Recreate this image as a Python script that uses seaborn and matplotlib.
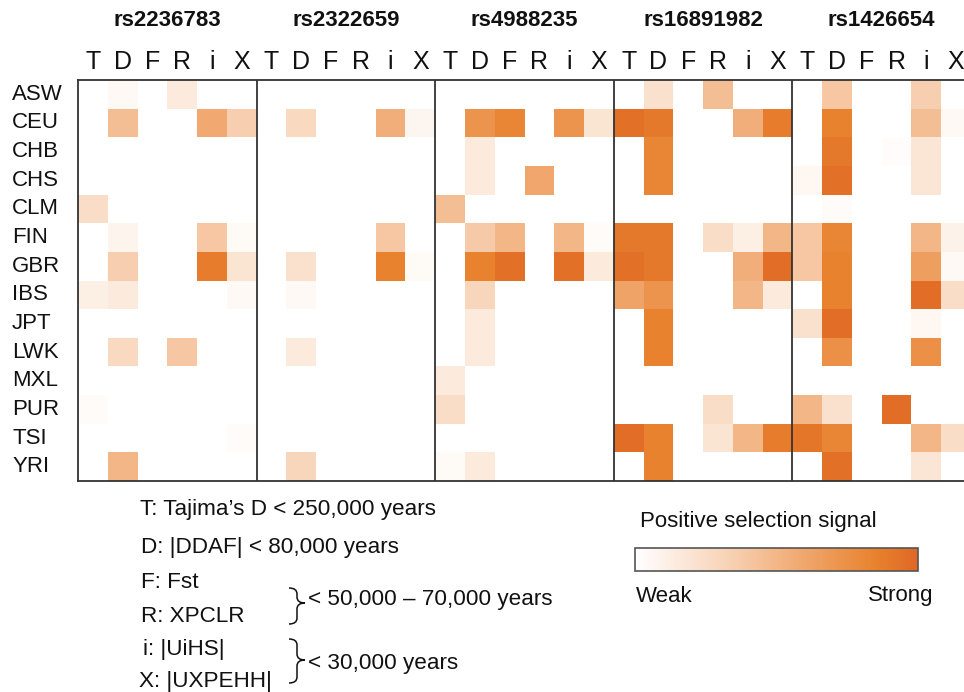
import numpy as np
import pandas as pd
import seaborn as sns
import matplotlib
matplotlib.use("Agg")
import matplotlib.pyplot as plt
from matplotlib.colors import LinearSegmentedColormap
from matplotlib.path import Path
from matplotlib.patches import PathPatch

# ---------------- data ----------------
populations = ["ASW", "CEU", "CHB", "CHS", "CLM", "FIN", "GBR", "IBS",
               "JPT", "LWK", "MXL", "PUR", "TSI", "YRI"]
snps = ["rs2236783", "rs2322659", "rs4988235", "rs16891982", "rs1426654"]
tests = ["T", "D", "F", "R", "i", "X"]

# rows = populations, columns = tests (T D F R i X); 0 = weak, 1 = strong
rs2236783 = [
    [0.00, 0.05, 0.00, 0.15, 0.00, 0.00],
    [0.00, 0.45, 0.00, 0.00, 0.58, 0.35],
    [0.00, 0.00, 0.00, 0.00, 0.00, 0.00],
    [0.00, 0.00, 0.00, 0.00, 0.00, 0.00],
    [0.25, 0.00, 0.00, 0.00, 0.00, 0.00],
    [0.00, 0.08, 0.00, 0.00, 0.40, 0.04],
    [0.00, 0.35, 0.00, 0.00, 0.88, 0.20],
    [0.12, 0.15, 0.00, 0.00, 0.00, 0.05],
    [0.00, 0.00, 0.00, 0.00, 0.00, 0.00],
    [0.00, 0.28, 0.00, 0.40, 0.00, 0.00],
    [0.00, 0.00, 0.00, 0.00, 0.00, 0.00],
    [0.03, 0.00, 0.00, 0.00, 0.00, 0.00],
    [0.00, 0.00, 0.00, 0.00, 0.00, 0.03],
    [0.00, 0.50, 0.00, 0.00, 0.00, 0.00],
]
rs2322659 = [
    [0.00, 0.00, 0.00, 0.00, 0.00, 0.00],
    [0.00, 0.28, 0.00, 0.00, 0.55, 0.07],
    [0.00, 0.00, 0.00, 0.00, 0.00, 0.00],
    [0.00, 0.00, 0.00, 0.00, 0.00, 0.00],
    [0.00, 0.00, 0.00, 0.00, 0.00, 0.00],
    [0.00, 0.00, 0.00, 0.00, 0.40, 0.00],
    [0.00, 0.22, 0.00, 0.00, 0.85, 0.04],
    [0.00, 0.05, 0.00, 0.00, 0.00, 0.00],
    [0.00, 0.00, 0.00, 0.00, 0.00, 0.00],
    [0.00, 0.15, 0.00, 0.00, 0.00, 0.00],
    [0.00, 0.00, 0.00, 0.00, 0.00, 0.00],
    [0.00, 0.00, 0.00, 0.00, 0.00, 0.00],
    [0.00, 0.00, 0.00, 0.00, 0.00, 0.00],
    [0.00, 0.30, 0.00, 0.00, 0.00, 0.00],
]
rs4988235 = [
    [0.00, 0.00, 0.00, 0.00, 0.00, 0.00],
    [0.00, 0.72, 0.82, 0.00, 0.72, 0.20],
    [0.00, 0.15, 0.00, 0.00, 0.00, 0.00],
    [0.00, 0.15, 0.00, 0.60, 0.00, 0.00],
    [0.45, 0.00, 0.00, 0.00, 0.00, 0.00],
    [0.00, 0.38, 0.50, 0.00, 0.50, 0.03],
    [0.00, 0.85, 0.95, 0.00, 0.95, 0.15],
    [0.00, 0.30, 0.00, 0.00, 0.00, 0.00],
    [0.00, 0.15, 0.00, 0.00, 0.00, 0.00],
    [0.00, 0.15, 0.00, 0.00, 0.00, 0.00],
    [0.15, 0.00, 0.00, 0.00, 0.00, 0.00],
    [0.25, 0.00, 0.00, 0.00, 0.00, 0.00],
    [0.00, 0.00, 0.00, 0.00, 0.00, 0.00],
    [0.04, 0.15, 0.00, 0.00, 0.00, 0.00],
]
rs16891982 = [
    [0.00, 0.22, 0.00, 0.45, 0.00, 0.00],
    [0.95, 0.90, 0.00, 0.00, 0.55, 0.88],
    [0.00, 0.82, 0.00, 0.00, 0.00, 0.00],
    [0.00, 0.82, 0.00, 0.00, 0.00, 0.00],
    [0.00, 0.00, 0.00, 0.00, 0.00, 0.00],
    [0.90, 0.90, 0.00, 0.25, 0.12, 0.50],
    [0.95, 0.90, 0.00, 0.00, 0.55, 0.97],
    [0.62, 0.72, 0.00, 0.00, 0.50, 0.15],
    [0.00, 0.85, 0.00, 0.00, 0.00, 0.00],
    [0.00, 0.85, 0.00, 0.00, 0.00, 0.00],
    [0.00, 0.00, 0.00, 0.00, 0.00, 0.00],
    [0.00, 0.00, 0.00, 0.25, 0.00, 0.00],
    [0.97, 0.85, 0.00, 0.20, 0.50, 0.88],
    [0.00, 0.85, 0.00, 0.00, 0.00, 0.00],
]
rs1426654 = [
    [0.00, 0.40, 0.00, 0.00, 0.35, 0.00],
    [0.00, 0.85, 0.00, 0.00, 0.45, 0.05],
    [0.00, 0.90, 0.00, 0.02, 0.18, 0.00],
    [0.06, 0.95, 0.00, 0.00, 0.18, 0.00],
    [0.00, 0.03, 0.00, 0.00, 0.00, 0.00],
    [0.40, 0.82, 0.00, 0.00, 0.50, 0.10],
    [0.40, 0.85, 0.00, 0.00, 0.65, 0.05],
    [0.00, 0.85, 0.00, 0.00, 0.97, 0.25],
    [0.22, 0.97, 0.00, 0.00, 0.06, 0.00],
    [0.00, 0.75, 0.00, 0.00, 0.75, 0.00],
    [0.00, 0.00, 0.00, 0.00, 0.00, 0.00],
    [0.50, 0.22, 0.00, 0.97, 0.00, 0.00],
    [0.92, 0.82, 0.00, 0.00, 0.50, 0.25],
    [0.00, 0.95, 0.00, 0.00, 0.18, 0.00],
]
snp_values = [rs2236783, rs2322659, rs4988235, rs16891982, rs1426654]

legend_lines = ["T: Tajima\u2019s D < 250,000 years",
                "D: |DDAF| < 80,000 years",
                "F: Fst", "R: XPCLR",
                "i: |UiHS|", "X: |UXPEHH|"]
brace_labels = ["< 50,000 \u2013 70,000 years", "< 30,000 years"]

# ---------------- build table ----------------
blocks = []
for snp, vals in zip(snps, snp_values):
    cols = pd.MultiIndex.from_product([[snp], tests])
    blocks.append(pd.DataFrame(np.array(vals), index=populations, columns=cols))
df = pd.concat(blocks, axis=1)

# ---------------- style ----------------
sns.set_theme(style="white")
plt.rcParams["font.family"] = ["Liberation Sans", "DejaVu Sans"]

W, H = 964, 692
fig = plt.figure(figsize=(W / 100, H / 100), dpi=100)

def fx(px):
    return px / W

def fy(py):
    return 1 - py / H

cmap = LinearSegmentedColormap.from_list(
    "sel",
    [(0.0, "#ffffff"), (0.35, "#f7cfb0"), (0.6, "#f0a66c"),
     (0.85, "#e8822e"), (1.0, "#df6824")])

left, right, top, bottom = 78, 971, 80, 481
ax = fig.add_axes([fx(left), fy(bottom), fx(right) - fx(left), fy(top) - fy(bottom)])
sns.heatmap(df, cmap=cmap, vmin=0, vmax=1, cbar=False, ax=ax,
            xticklabels=[t for _ in snps for t in tests],
            yticklabels=populations)

ax.set_xlabel("")
ax.set_ylabel("")
ax.xaxis.tick_top()
ax.tick_params(axis="x", length=0, pad=4, labelsize=18, colors="#111111")
ax.tick_params(axis="y", length=0, pad=47.5, labelsize=16, colors="#111111")
for lbl in ax.get_yticklabels():
    lbl.set_horizontalalignment("left")
    lbl.set_rotation(0)
for lbl in ax.get_xticklabels():
    lbl.set_rotation(0)

for s in ax.spines.values():
    s.set_visible(True)
    s.set_color("#333333")
    s.set_linewidth(1.3)
for k in range(1, len(snps)):
    ax.axvline(k * len(tests), color="#333333", lw=1.3)

# SNP titles
for k, snp in enumerate(snps):
    ax.text((k + 0.5) * len(tests), -2.08, snp, ha="center", va="center",
            fontsize=16, fontweight="bold", color="#111111",
            transform=ax.transData)
ax.set_ylim(len(populations), 0)

# ---------------- legend text ----------------
line_pos = [(140, 510), (141, 547), (141, 583), (141, 617), (143, 650), (139, 681)]
for txt, (x, y) in zip(legend_lines, line_pos):
    fig.text(fx(x), fy(y), txt, ha="left", va="center", fontsize=16.2, color="#111111")

def brace(x0, x1, ytop, ybot, ymid):
    r = 6
    xm = (x0 + x1) / 2
    verts = [(x0, ytop), (xm, ytop), (xm, ytop + r),
             (xm, ymid - r),
             (xm, ymid), (x1, ymid),
             (xm, ymid), (xm, ymid + r),
             (xm, ybot - r),
             (xm, ybot), (x0, ybot)]
    codes = [Path.MOVETO, Path.CURVE3, Path.CURVE3,
             Path.LINETO,
             Path.CURVE3, Path.CURVE3,
             Path.CURVE3, Path.CURVE3,
             Path.LINETO,
             Path.CURVE3, Path.CURVE3]
    verts = [(fx(a), fy(b)) for a, b in verts]
    p = PathPatch(Path(verts, codes), transform=fig.transFigure,
                  fill=False, edgecolor="#111111", lw=1.1)
    fig.add_artist(p)

brace(289, 305, 588, 624, 603)
brace(289, 305, 639, 683, 660)
fig.text(fx(308), fy(600), brace_labels[0], ha="left", va="center", fontsize=16.2, color="#111111")
fig.text(fx(308), fy(663), brace_labels[1], ha="left", va="center", fontsize=16.2, color="#111111")

# ---------------- colour bar ----------------
cax = fig.add_axes([fx(635), fy(571), fx(918) - fx(635), fy(548) - fy(571)])
cb = fig.colorbar(ax.collections[0], cax=cax, orientation="horizontal")
cb.set_ticks([])
cb.outline.set_edgecolor("#555555")
cb.outline.set_linewidth(1.2)
fig.text(fx(640), fy(522), "Positive selection signal", ha="left", va="center",
         fontsize=16, color="#111111")
fig.text(fx(636), fy(596), "Weak", ha="left", va="center", fontsize=16, color="#111111")
fig.text(fx(933), fy(596), "Strong", ha="right", va="center", fontsize=16, color="#111111")

fig.savefig("out.png", dpi=100)
